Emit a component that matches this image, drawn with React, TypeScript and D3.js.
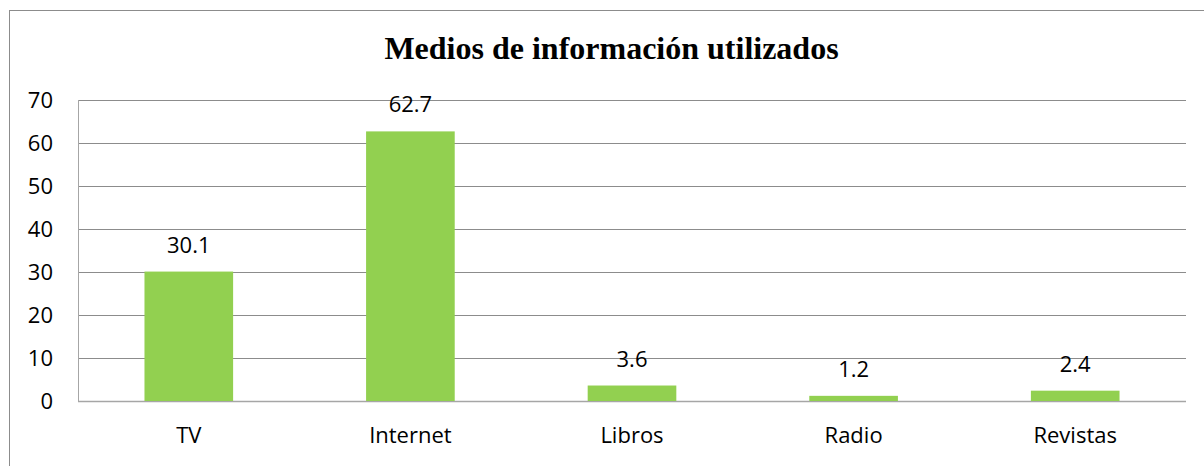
import React from "react";
import * as d3 from "d3";

const categories = ["TV", "Internet", "Libros", "Radio", "Revistas"];
const values = [30.1, 62.7, 3.6, 1.2, 2.4];
const yTicks = [0, 10, 20, 30, 40, 50, 60, 70];
const title = "Medios de información utilizados";

export default function App() {
  const W = 1204, H = 466;
  const left = 78, right = 1186, top = 100, bottom = 401;
  const x = d3.scaleBand<string>().domain(categories).range([left, right]).paddingInner(0.6).paddingOuter(0.3);
  const y = d3.scaleLinear().domain([0, 70]).range([bottom, top]);
  const font = "'Open Sans', sans-serif";
  return (
    <svg width={W} height={H} style={{ position: "absolute", left: 0, top: 0 }}>
      <rect x={0} y={0} width={W} height={H} fill="#fff" />
      <rect x={9.5} y={10.5} width={W + 20} height={H + 20} fill="none" stroke="#8c8c8c" strokeWidth={1} />
      <text x={611.5} y={59} textAnchor="middle" fontFamily="'Liberation Serif', 'Times New Roman', serif" fontWeight="bold" fontSize={32} fill="#000">{title}</text>
      {yTicks.map((t) => (
        <g key={t}>
          <line x1={left} x2={right} y1={Math.round(y(t)) + 0.5} y2={Math.round(y(t)) + 0.5} stroke={t === 0 ? "#a6a6a6" : "#8c8c8c"} strokeWidth={t === 0 ? 1.5 : 1} />
          <text x={53} y={y(t) + 8} textAnchor="end" fontFamily={font} fontSize={22} fill="#000">{t}</text>
        </g>
      ))}
      <line x1={left + 0.5} x2={left + 0.5} y1={top} y2={bottom} stroke="#a6a6a6" strokeWidth={1} />
      {categories.map((c, i) => (
        <g key={c}>
          <rect x={x(c)} y={y(values[i])} width={x.bandwidth()} height={bottom - y(values[i])} fill="#92d050" />
          <text x={x(c)! + x.bandwidth() / 2} y={y(values[i]) - 19} textAnchor="middle" fontFamily={font} fontSize={22} fill="#000">{values[i].toFixed(1)}</text>
          <text x={x(c)! + x.bandwidth() / 2} y={443} textAnchor="middle" fontFamily={font} fontSize={22} fill="#000">{c}</text>
        </g>
      ))}
    </svg>
  );
}
